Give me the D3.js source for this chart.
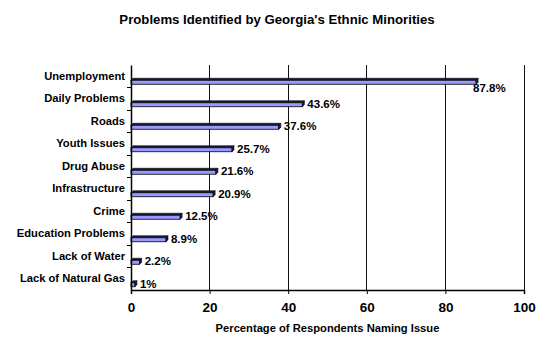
<!DOCTYPE html>
<html>
<head>
<meta charset="utf-8">
<script src="https://cdn.jsdelivr.net/npm/d3@7"></script>
<style>
  html, body { margin: 0; padding: 0; background: #fff; }
  svg { display: block; }
  text { font-family: "Liberation Sans", Arial, sans-serif; font-weight: bold; fill: #000; }
</style>
</head>
<body>
<script>
const categories = ["Unemployment", "Daily Problems", "Roads", "Youth Issues", "Drug Abuse",
  "Infrastructure", "Crime", "Education Problems", "Lack of Water", "Lack of Natural Gas"];
const values = [87.8, 43.6, 37.6, 25.7, 21.6, 20.9, 12.5, 8.9, 2.2, 1];
const valueLabels = ["87.8%", "43.6%", "37.6%", "25.7%", "21.6%", "20.9%", "12.5%", "8.9%", "2.2%", "1%"];
const xTicks = [0, 20, 40, 60, 80, 100];
const title = "Problems Identified by Georgia's Ethnic Minorities";
const xTitle = "Percentage of Respondents Naming Issue";

const W = 555, H = 350;
const m = { left: 131, right: 31, top: 65, bottom: 60 };
const svg = d3.select("body").append("svg").attr("width", W).attr("height", H);

const x = d3.scaleLinear().domain([0, 100]).range([m.left, W - m.right]);
const y = d3.scaleBand().domain(categories).range([m.top, H - m.bottom]);

// gridlines
svg.append("g").selectAll("line").data(xTicks.filter(d => d > 0)).join("line")
  .attr("x1", d => x(d)).attr("x2", d => x(d))
  .attr("y1", m.top).attr("y2", H - m.bottom)
  .attr("stroke", "#111").attr("stroke-width", 1).attr("shape-rendering", "crispEdges");

// bars with 3D look
const depth = 2;
const barG = svg.append("g");
categories.forEach((c, i) => {
  const cy = y(c) + y.bandwidth() / 2;
  const x0 = x(0), x1 = x(values[i]);
  const top = cy + 2 + depth, bot = cy + 8;
  barG.append("polygon")
    .attr("points", [[x0, top], [x0 + depth, top - depth], [x1 + depth, top - depth], [x1, top]].join(" "))
    .attr("fill", "#1c1c44").attr("stroke", "#000").attr("stroke-width", 0.6);
  barG.append("rect")
    .attr("x", x0).attr("y", top).attr("width", Math.max(0, x1 - x0)).attr("height", bot - top)
    .attr("fill", "#9999ff").attr("stroke", "#000").attr("stroke-width", 0.8);
  barG.append("polygon")
    .attr("points", [[x1, top], [x1 + depth, top - depth], [x1 + depth, bot - depth], [x1, bot]].join(" "))
    .attr("fill", "#1c1c44").attr("stroke", "#000").attr("stroke-width", 0.6);
  const big = values[i] > 80;
  svg.append("text")
    .attr("x", big ? x1 - 3 : x1 + 5)
    .attr("y", big ? bot + 4 : cy + 5)
    .attr("dy", "0.35em")
    .attr("font-size", 11.5)
    .text(valueLabels[i]);
});

// axes
const yAxis = d3.axisLeft(y).tickSize(0).tickPadding(6);
const yg = svg.append("g").attr("transform", `translate(${m.left},0)`).call(yAxis);
yg.select(".domain").attr("stroke", "#000").attr("stroke-width", 1.5);
yg.selectAll("text").attr("font-size", 11.2).attr("font-family", null).attr("font-weight", "bold");
svg.append("g").selectAll("line").data(categories.slice(1)).join("line")
  .attr("x1", m.left - 4).attr("x2", m.left)
  .attr("y1", d => y(d)).attr("y2", d => y(d))
  .attr("stroke", "#000").attr("stroke-width", 1).attr("shape-rendering", "crispEdges");

const xAxis = d3.axisBottom(x).tickValues(xTicks).tickSize(4).tickPadding(8).tickFormat(d3.format("d"));
const xg = svg.append("g").attr("transform", `translate(0,${H - m.bottom})`).call(xAxis);
xg.select(".domain").attr("stroke", "#000").attr("stroke-width", 1.5);
xg.selectAll("line").attr("stroke", "#000");
xg.selectAll("text").attr("font-size", 13.5).attr("font-family", null).attr("font-weight", "bold");

// titles
svg.append("text").attr("x", 277).attr("y", 24).attr("text-anchor", "middle")
  .attr("font-size", 13.2).text(title);
svg.append("text").attr("x", (x(0) + x(100)) / 2).attr("y", 332).attr("text-anchor", "middle")
  .attr("font-size", 11.2).text(xTitle);
</script>
</body>
</html>
